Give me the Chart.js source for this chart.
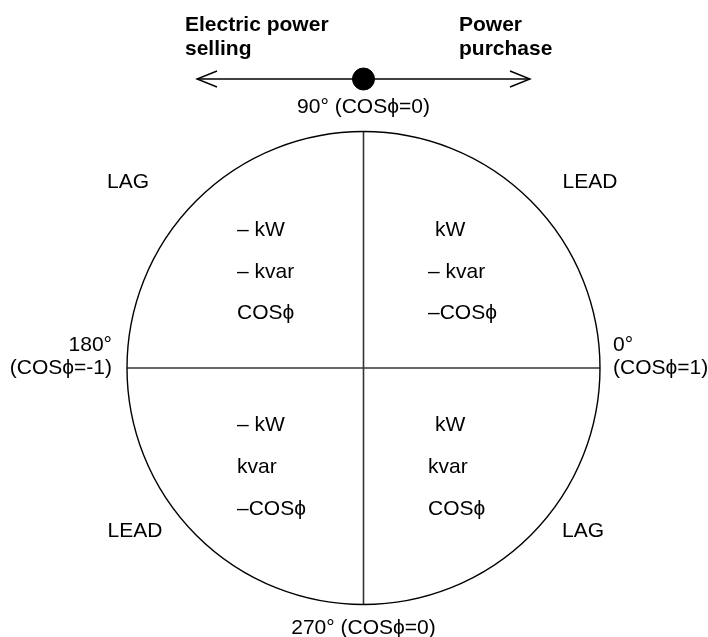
<!DOCTYPE html>
<html>
<head>
<meta charset="utf-8">
<script src="https://cdn.jsdelivr.net/npm/chart.js@4.4.1/dist/chart.umd.min.js"></script>
<style>
  html, body { margin: 0; padding: 0; background: #fff; }
  #wrap { width: 708px; height: 637px; position: relative; }
</style>
</head>
<body>
<div id="wrap"><canvas id="phaseChart"></canvas></div>
<script>
// diagram units = pixels measured from the circle centre (y up)
const circleRadius = 236.5;

const directionLabels = [["Electric power", "selling"], ["Power", "purchase"]];
const angleLabels = ["90° (COSϕ=0)", "270° (COSϕ=0)"];
const sideLabels = [["180°", "(COSϕ=-1)"], ["0°", "(COSϕ=1)"]];
const cornerLabels = ["LAG", "LEAD", "LEAD", "LAG"]; // UL, UR, LL, LR
const quadrantLabels = [
  ["– kW", "– kvar", "COSϕ"],   // upper left
  ["kW", "– kvar", "–COSϕ"],    // upper right
  ["– kW", "kvar", "–COSϕ"],    // lower left
  ["kW", "kvar", "COSϕ"]        // lower right
];

// arrow above the circle
const arrowShaft = [{ x: -166.5, y: 289 }, { x: 166.5, y: 289 }];
const arrowLeft = [{ x: -146.5, y: 297 }, { x: -166.5, y: 289 }, { x: -146.5, y: 281 }];
const arrowRight = [{ x: 146.5, y: 297 }, { x: 166.5, y: 289 }, { x: 146.5, y: 281 }];
const arrowDot = [{ x: 0, y: 289 }];

const FONT = '"Liberation Sans", Arial, Helvetica, sans-serif';

const labelPlugin = {
  id: "diagramLabels",
  afterDatasetsDraw(chart) {
    const { ctx, scales: { x, y } } = chart;
    const px = v => x.getPixelForValue(v);
    const py = v => y.getPixelForValue(v);
    const put = (text, ux, uy, align, bold) => {
      ctx.font = (bold ? "bold " : "") + "21px " + FONT;
      ctx.textAlign = align;
      ctx.textBaseline = "middle";
      ctx.fillStyle = "#000";
      ctx.fillText(text, px(ux), py(uy));
    };
    ctx.save();
    // top direction labels
    directionLabels[0].forEach((t, i) => put(t, -178.5, 343 - i * 24, "left", true));
    directionLabels[1].forEach((t, i) => put(t, 95.5, 343 - i * 24, "left", true));
    // angle labels
    put(angleLabels[0], 0, 261, "center");
    put(angleLabels[1], 0, -260, "center");
    sideLabels[0].forEach((t, i) => put(t, -251.5, 23 - i * 23, "right"));
    sideLabels[1].forEach((t, i) => put(t, 249.5, 23 - i * 23, "left"));
    // LAG / LEAD
    put(cornerLabels[0], -235.5, 186, "center");
    put(cornerLabels[1], 226.5, 186, "center");
    put(cornerLabels[2], -228.5, -163, "center");
    put(cornerLabels[3], 219.5, -163, "center");
    // quadrant contents
    const rowsTop = [138, 96, 55];
    const rowsBot = [-57, -99, -141];
    quadrantLabels[0].forEach((t, i) => put(t, -126.5, rowsTop[i], "left"));
    quadrantLabels[1].forEach((t, i) => put(t, i === 0 ? 71.5 : 64.5, rowsTop[i], "left"));
    quadrantLabels[2].forEach((t, i) => put(t, -126.5, rowsBot[i], "left"));
    quadrantLabels[3].forEach((t, i) => put(t, i === 0 ? 71.5 : 64.5, rowsBot[i], "left"));
    ctx.restore();
  }
};

const lineSet = (data, color, width) => ({
  data, showLine: true, borderColor: color, borderWidth: width,
  pointRadius: 0, pointHoverRadius: 0, fill: false, clip: false, tension: 0
});

new Chart(document.getElementById("phaseChart"), {
  type: "scatter",
  data: {
    datasets: [
      {
        // outer circle, radius taken from the x scale
        data: [{ x: 0, y: 0 }],
        pointRadius: c => c.chart.scales.x.getPixelForValue(circleRadius) - c.chart.scales.x.getPixelForValue(0),
        pointHoverRadius: c => c.chart.scales.x.getPixelForValue(circleRadius) - c.chart.scales.x.getPixelForValue(0),
        pointBackgroundColor: "rgba(0,0,0,0)",
        pointBorderColor: "#000",
        pointBorderWidth: 1.4,
        clip: false
      },
      lineSet([{ x: 0, y: -circleRadius }, { x: 0, y: circleRadius }], "#333", 1.6),
      lineSet([{ x: -circleRadius, y: 0 }, { x: circleRadius, y: 0 }], "#333", 1.6),
      lineSet(arrowShaft, "#000", 1.4),
      lineSet(arrowLeft, "#000", 1.4),
      lineSet(arrowRight, "#000", 1.4),
      {
        data: arrowDot,
        pointRadius: 11,
        pointHoverRadius: 11,
        pointBackgroundColor: "#000",
        pointBorderColor: "#000",
        clip: false
      }
    ]
  },
  options: {
    responsive: true,
    maintainAspectRatio: false,
    animation: false,
    events: [],
    layout: { padding: 0, autoPadding: false },
    plugins: { legend: { display: false }, tooltip: { enabled: false } },
    scales: {
      x: { type: "linear", min: -363.5, max: 344.5, display: false },
      y: { type: "linear", min: -269, max: 368, display: false }
    }
  },
  plugins: [labelPlugin]
});
</script>
</body>
</html>
